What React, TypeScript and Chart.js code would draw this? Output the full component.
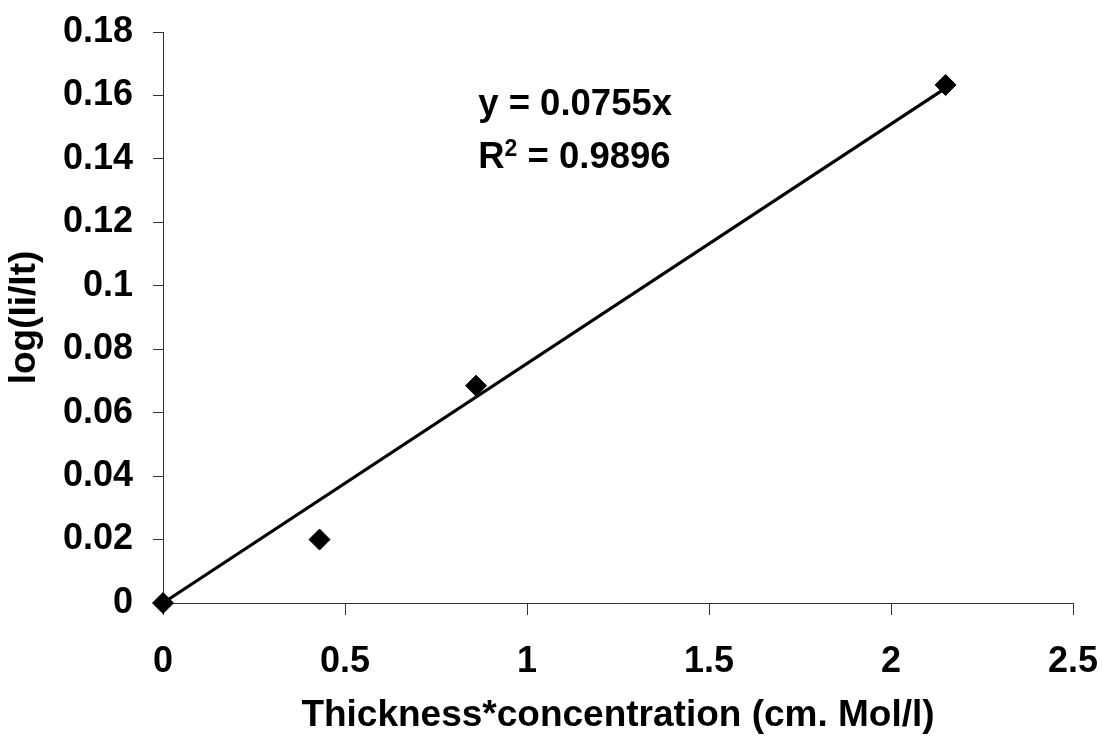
import React, { useEffect, useRef } from "react";
import { Chart, registerables } from "chart.js";

Chart.register(...registerables);

// ---- data ----
const pointX = [0, 0.43, 0.86, 2.15];
const pointY = [0, 0.02, 0.0685, 0.1633];
const trendX = [0, 2.15];
const trendY = [0, 0.1623];
const xTicks = [0, 0.5, 1, 1.5, 2, 2.5];
const yTicks = [0, 0.02, 0.04, 0.06, 0.08, 0.1, 0.12, 0.14, 0.16, 0.18];
const equationText = "y = 0.0755x";
const r2Value = "0.9896";
const xTitle = "Thickness*concentration (cm. Mol/l)";
const yTitle = "log(Ii/It)";
// equation anchor in data units (x, baseline y of line 1, baseline y of line 2)
const eqAnchorX = 0.866;
const eqAnchorY = [0.1538, 0.1371];

const FAMILY = '"Liberation Sans", Arial, Helvetica, sans-serif';

const fmt = (v: number) => String(+Number(v).toFixed(3));

const equationPlugin = {
  id: "equationText",
  afterDatasetsDraw(chart: any) {
    const { ctx, scales } = chart;
    const x = scales.x;
    const y = scales.y;
    ctx.save();
    ctx.fillStyle = "#000";
    ctx.textAlign = "left";
    ctx.textBaseline = "alphabetic";
    const big = `bold 36.5px ${FAMILY}`;
    const small = `bold 23px ${FAMILY}`;
    const px = x.getPixelForValue(eqAnchorX);
    ctx.font = big;
    ctx.fillText(equationText, px, y.getPixelForValue(eqAnchorY[0]));
    const by = y.getPixelForValue(eqAnchorY[1]);
    ctx.fillText("R", px, by);
    let w = ctx.measureText("R").width;
    ctx.font = small;
    ctx.fillText("2", px + w, by - 12);
    w += ctx.measureText("2").width;
    ctx.font = big;
    ctx.fillText(" = " + r2Value, px + w, by);
    ctx.restore();
  },
};

export default function App() {
  const canvasRef = useRef<HTMLCanvasElement | null>(null);

  useEffect(() => {
    if (!canvasRef.current) return;
    const chart = new Chart(canvasRef.current, {
      type: "scatter",
      data: {
        datasets: [
          {
            label: "data",
            data: pointX.map((v, i) => ({ x: v, y: pointY[i] })),
            pointStyle: "rectRot",
            pointRadius: 10.5,
            backgroundColor: "#000",
            borderColor: "#000",
            borderWidth: 1,
            showLine: false,
            clip: false,
          } as any,
          {
            label: "trend",
            data: trendX.map((v, i) => ({ x: v, y: trendY[i] })),
            showLine: true,
            pointRadius: 0,
            borderColor: "#000",
            borderWidth: 3.2,
            backgroundColor: "#000",
            clip: false,
          } as any,
        ],
      },
      options: {
        animation: false,
        responsive: true,
        maintainAspectRatio: false,
        devicePixelRatio: 1,
        layout: { padding: { top: 32, right: 29, bottom: 0, left: 0 } },
        plugins: {
          legend: { display: false },
          tooltip: { enabled: false },
        },
        scales: {
          x: {
            type: "linear",
            min: 0,
            max: 2.5,
            afterBuildTicks: (s: any) => {
              s.ticks = xTicks.map((v) => ({ value: v }));
            },
            afterFit: (s: any) => {
              s.height = 135;
              s.paddingLeft = 0;
              s.paddingRight = 0;
              s.paddingTop = 0;
              s.paddingBottom = 0;
            },
            grid: {
              drawOnChartArea: false,
              drawTicks: true,
              tickLength: 12,
              color: "#333",
              lineWidth: 1,
            },
            border: { display: true, color: "#333", width: 1 },
            ticks: {
              color: "#000",
              padding: 25,
              maxRotation: 0,
              font: { family: FAMILY, size: 36, weight: "bold" },
              callback: (v: any) => fmt(v),
            },
            title: {
              display: true,
              text: xTitle,
              color: "#000",
              font: { family: FAMILY, size: 37, weight: "bold" },
              padding: { top: 3.8, bottom: 0 },
            },
          },
          y: {
            type: "linear",
            min: 0,
            max: 0.18,
            afterBuildTicks: (s: any) => {
              s.ticks = yTicks.map((v) => ({ value: v }));
            },
            afterFit: (s: any) => {
              s.width = 163;
              s.paddingLeft = 0;
              s.paddingRight = 0;
              s.paddingTop = 0;
              s.paddingBottom = 0;
            },
            grid: {
              drawOnChartArea: false,
              drawTicks: true,
              tickLength: 10,
              color: "#333",
              lineWidth: 1,
            },
            border: { display: true, color: "#333", width: 1 },
            ticks: {
              color: "#000",
              padding: 20,
              font: { family: FAMILY, size: 36, weight: "bold" },
              callback: (v: any) => fmt(v),
            },
            title: {
              display: true,
              text: yTitle,
              color: "#000",
              font: { family: FAMILY, size: 37, weight: "bold" },
              padding: { top: 2.8, bottom: 0 },
            },
          },
        },
      } as any,
      plugins: [equationPlugin],
    });
    return () => chart.destroy();
  }, []);

  return (
    <div
      style={{
        position: "absolute",
        left: 0,
        top: 0,
        width: 1102,
        height: 738,
        background: "#fff",
      }}
    >
      <canvas ref={canvasRef} />
    </div>
  );
}
